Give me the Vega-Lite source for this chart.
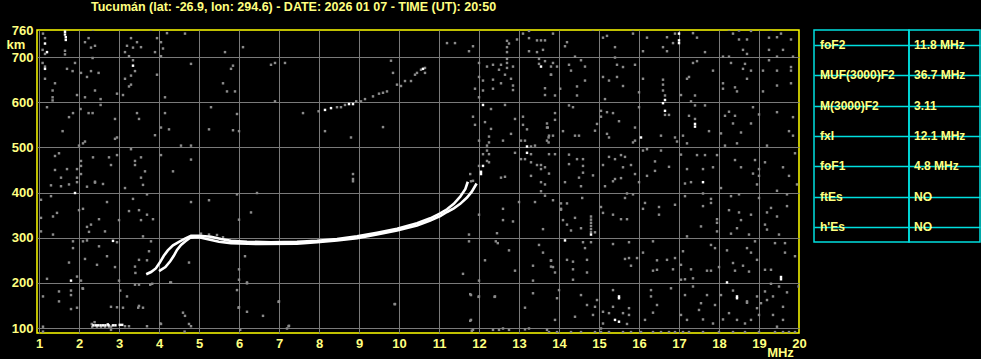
{
  "$schema": "https://vega.github.io/schema/vega-lite/v6.json",
  "background": "#000000",
  "padding": {"left": 5, "top": 0, "right": 0, "bottom": 0},
  "bounds": "flush",
  "spacing": 15,
  "config": {
    "font": "Liberation Sans",
    "view": {"stroke": "#ffff00", "strokeWidth": 1.5},
    "axis": {
      "labelFont": "Liberation Sans", "labelFontWeight": "bold", "labelColor": "#ffff80", "labelFontSize": 13,
      "titleFont": "Liberation Sans", "titleFontWeight": "bold", "titleColor": "#ffff80", "titleFontSize": 13,
      "ticks": false, "tickSize": 0, "domain": false, "gridColor": "#7a7a7a", "gridOpacity": 1, "gridWidth": 1
    }
  },
  "datasets": {
    "noise": [
      {"f":1.10,"h":752},{"f":1.15,"h":742},{"f":1.09,"h":716},{"f":1.15,"h":707},{"f":1.09,"h":687},{"f":1.15,"h":679},{"f":1.15,"h":652},{"f":1.40,"h":642},{"f":1.34,"h":626},{"f":1.34,"h":611},{"f":1.34,"h":604},{"f":1.20,"h":589},{"f":1.70,"h":674},{"f":1.84,"h":669},{"f":1.90,"h":687},{"f":2.05,"h":665},{"f":2.20,"h":656},{"f":2.30,"h":669},{"f":2.49,"h":665},{"f":2.15,"h":733},{"f":2.24,"h":742},{"f":2.30,"h":721},{"f":2.40,"h":725},{"f":2.34,"h":698},{"f":2.35,"h":761},{"f":1.95,"h":616},{"f":2.15,"h":611},{"f":2.40,"h":626},{"f":2.54,"h":607},{"f":2.54,"h":594},{"f":2.04,"h":585},{"f":1.85,"h":576},{"f":1.75,"h":567},{"f":1.59,"h":536},{"f":2.24,"h":576},{"f":2.34,"h":576},{"f":2.90,"h":563},{"f":2.95,"h":619},{"f":3.10,"h":616},{"f":3.15,"h":652},{"f":3.25,"h":635},{"f":3.30,"h":639},{"f":3.30,"h":659},{"f":3.40,"h":669},{"f":3.35,"h":693},{"f":3.25,"h":702},{"f":3.15,"h":711},{"f":3.20,"h":725},{"f":3.30,"h":742},{"f":3.45,"h":733},{"f":3.55,"h":722},{"f":3.35,"h":721},{"f":3.80,"h":761},{"f":3.90,"h":711},{"f":3.95,"h":742},{"f":4.05,"h":733},{"f":4.10,"h":719},{"f":4.20,"h":753},{"f":4.65,"h":752},{"f":4.05,"h":702},{"f":3.95,"h":661},{"f":4.15,"h":611},{"f":3.45,"h":576},{"f":3.50,"h":563},{"f":4.15,"h":576},{"f":4.05,"h":544},{"f":4.25,"h":540},{"f":3.90,"h":527},{"f":2.90,"h":519},{"f":2.95,"h":522},{"f":2.15,"h":513},{"f":2.10,"h":509},{"f":2.00,"h":504},{"f":1.40,"h":481},{"f":1.50,"h":487},{"f":1.40,"h":450},{"f":1.70,"h":452},{"f":2.05,"h":470},{"f":2.05,"h":459},{"f":1.95,"h":452},{"f":2.05,"h":441},{"f":1.95,"h":433},{"f":1.55,"h":433},{"f":2.35,"h":478},{"f":2.75,"h":478},{"f":2.80,"h":461},{"f":2.95,"h":483},{"f":3.30,"h":496},{"f":3.40,"h":470},{"f":3.40,"h":461},{"f":3.55,"h":478},{"f":3.65,"h":447},{"f":4.05,"h":483},{"f":4.35,"h":447},{"f":4.55,"h":504},{"f":4.80,"h":504},{"f":4.80,"h":473},{"f":2.40,"h":424},{"f":3.55,"h":433},{"f":4.80,"h":685},{"f":5.80,"h":674},{"f":5.85,"h":681},{"f":5.65,"h":711},{"f":6.10,"h":722},{"f":5.60,"h":642},{"f":5.70,"h":624},{"f":5.90,"h":624},{"f":6.90,"h":602},{"f":6.80,"h":683},{"f":6.90,"h":687},{"f":7.15,"h":687},{"f":5.30,"h":589},{"f":5.95,"h":574},{"f":5.25,"h":540},{"f":5.85,"h":538},{"f":6.00,"h":536},{"f":1.65,"h":714},{"f":1.65,"h":706},
      {"f":7.60,"h":576},{"f":7.99,"h":580},{"f":8.45,"h":589},{"f":8.55,"h":589},{"f":8.65,"h":594},{"f":8.93,"h":602},{"f":9.05,"h":602},{"f":9.15,"h":607},{"f":9.35,"h":613},{"f":9.50,"h":619},{"f":9.60,"h":621},{"f":9.70,"h":624},{"f":9.95,"h":639},{"f":10.05,"h":636},{"f":10.15,"h":647},{"f":10.30,"h":647},{"f":10.40,"h":661},{"f":10.45,"h":665},{"f":10.55,"h":672},{"f":10.65,"h":676},{"f":10.65,"h":665},
      {"f":9.80,"h":692},{"f":9.85,"h":665},{"f":9.60,"h":545},{"f":8.15,"h":536},{"f":8.80,"h":522},{"f":8.85,"h":441},{"f":8.85,"h":430},{"f":11.20,"h":731},{"f":11.40,"h":731},{"f":11.75,"h":713},{"f":11.85,"h":724},{"f":12.70,"h":736},{"f":12.70,"h":722},{"f":12.70,"h":711},{"f":12.75,"h":730},{"f":12.95,"h":739},{"f":13.10,"h":752},{"f":13.25,"h":758},{"f":13.25,"h":742},{"f":13.25,"h":713},{"f":13.45,"h":737},{"f":13.55,"h":737},{"f":13.65,"h":737},{"f":13.60,"h":716},{"f":13.45,"h":711},{"f":13.50,"h":696},{"f":13.50,"h":685},{"f":13.65,"h":691},{"f":13.80,"h":679},{"f":13.80,"h":661},{"f":13.65,"h":631},{"f":13.65,"h":616},{"f":12.70,"h":696},{"f":12.70,"h":687},{"f":12.70,"h":676},{"f":12.85,"h":679},{"f":12.55,"h":683},{"f":12.50,"h":672},{"f":12.35,"h":683},{"f":12.20,"h":679},{"f":12.00,"h":687},{"f":12.00,"h":656},{"f":12.10,"h":648},{"f":12.35,"h":650},{"f":12.65,"h":661},{"f":12.80,"h":652},{"f":12.85,"h":637},{"f":12.85,"h":627},{"f":12.55,"h":642},{"f":12.35,"h":630},{"f":12.10,"h":626},{"f":11.90,"h":630},{"f":12.00,"h":611},{"f":12.30,"h":585},{"f":12.65,"h":594},{"f":11.85,"h":568},{"f":11.90,"h":550},{"f":12.15,"h":556},{"f":12.30,"h":541},{"f":12.25,"h":524},{"f":12.25,"h":511},{"f":12.20,"h":504},{"f":12.00,"h":515},{"f":12.10,"h":485},{"f":12.20,"h":493},{"f":12.25,"h":485},{"f":12.20,"h":470},{"f":12.25,"h":467},{"f":12.00,"h":459},{"f":11.78,"h":441},{"f":11.85,"h":426},{"f":12.60,"h":515},{"f":12.80,"h":530},{"f":12.90,"h":563},{"f":13.10,"h":568},{"f":13.10,"h":550},{"f":13.20,"h":540},{"f":13.05,"h":515},{"f":13.15,"h":515},{"f":13.30,"h":502},{"f":13.40,"h":504},{"f":13.30,"h":485},{"f":13.30,"h":467},{"f":12.90,"h":488},{"f":13.05,"h":474},{"f":13.15,"h":474},{"f":13.45,"h":461},{"f":13.55,"h":461},{"f":13.65,"h":456},{"f":13.75,"h":485},{"f":13.70,"h":515},{"f":13.75,"h":526},{"f":13.70,"h":544},{"f":13.70,"h":553},{"f":12.65,"h":435},{"f":12.55,"h":433},{"f":13.30,"h":437},{"f":13.55,"h":452},
      {"f":13.85,"h":752},{"f":14.85,"h":761},{"f":15.20,"h":747},{"f":15.10,"h":743},{"f":15.40,"h":722},{"f":15.85,"h":761},{"f":15.85,"h":752},{"f":16.20,"h":743},{"f":16.10,"h":713},{"f":16.70,"h":744},{"f":16.70,"h":713},{"f":16.60,"h":722},{"f":16.85,"h":731},{"f":16.90,"h":752},{"f":17.35,"h":753},{"f":17.45,"h":743},{"f":17.65,"h":711},{"f":18.25,"h":761},{"f":18.35,"h":752},{"f":18.50,"h":759},{"f":18.80,"h":758},{"f":18.50,"h":739},{"f":18.70,"h":739},{"f":18.60,"h":716},{"f":18.70,"h":707},{"f":18.10,"h":701},{"f":18.25,"h":701},{"f":19.30,"h":761},{"f":19.45,"h":744},{"f":19.55,"h":752},{"f":19.25,"h":743},{"f":19.80,"h":739},{"f":19.25,"h":716},{"f":19.60,"h":716},{"f":19.45,"h":701},{"f":19.85,"h":701},{"f":19.25,"h":693},{"f":13.85,"h":687},{"f":13.95,"h":679},{"f":14.20,"h":733},{"f":14.15,"h":724},{"f":14.40,"h":701},{"f":14.55,"h":693},{"f":14.25,"h":683},{"f":14.30,"h":670},{"f":14.65,"h":679},{"f":14.65,"h":648},{"f":14.45,"h":635},{"f":14.45,"h":615},{"f":14.03,"h":630},{"f":13.90,"h":615},{"f":13.80,"h":661},{"f":15.10,"h":656},{"f":15.25,"h":648},{"f":15.45,"h":656},{"f":15.40,"h":699},{"f":15.45,"h":683},{"f":15.60,"h":678},{"f":15.90,"h":683},{"f":15.60,"h":636},{"f":15.15,"h":607},{"f":16.00,"h":622},{"f":16.10,"h":652},{"f":16.60,"h":650},{"f":16.60,"h":639},{"f":16.60,"h":626},{"f":16.65,"h":615},{"f":16.65,"h":572},{"f":16.75,"h":572},{"f":17.05,"h":616},{"f":17.20,"h":652},{"f":17.25,"h":656},{"f":17.35,"h":687},{"f":17.45,"h":691},{"f":17.85,"h":670},{"f":18.10,"h":642},{"f":18.10,"h":630},{"f":18.40,"h":633},{"f":18.45,"h":624},{"f":18.70,"h":652},{"f":18.60,"h":674},{"f":18.80,"h":670},{"f":18.65,"h":685},{"f":18.30,"h":687},{"f":19.10,"h":670},{"f":19.10,"h":624},{"f":19.45,"h":670},{"f":19.45,"h":637},{"f":19.80,"h":678},{"f":19.80,"h":670},{"f":19.80,"h":642},{"f":17.40,"h":615},{"f":17.30,"h":602},{"f":17.40,"h":593},{"f":17.65,"h":593},{"f":17.25,"h":570},{"f":17.40,"h":563},{"f":17.75,"h":536},{"f":18.15,"h":570},{"f":18.25,"h":579},{"f":18.40,"h":570},{"f":18.35,"h":553},{"f":18.55,"h":533},{"f":18.80,"h":553},{"f":18.85,"h":589},{"f":19.00,"h":573},{"f":19.45,"h":578},{"f":19.85,"h":567},{"f":19.75,"h":536},{"f":19.85,"h":526},{"f":18.05,"h":531},{"f":18.15,"h":504},{"f":18.45,"h":509},{"f":19.20,"h":504},{"f":13.90,"h":576},{"f":13.90,"h":561},{"f":13.72,"h":544},{"f":13.74,"h":522},{"f":13.74,"h":511},{"f":13.85,"h":526},{"f":14.10,"h":536},{"f":14.25,"h":593},{"f":14.35,"h":589},{"f":14.40,"h":526},{"f":14.50,"h":526},{"f":14.95,"h":552},{"f":14.90,"h":537},{"f":15.05,"h":581},{"f":15.05,"h":568},{"f":15.20,"h":578},{"f":15.35,"h":576},{"f":15.50,"h":558},{"f":15.20,"h":530},{"f":15.25,"h":522},{"f":15.90,"h":544},{"f":15.90,"h":515},{"f":15.85,"h":511},{"f":16.00,"h":589},{"f":16.10,"h":493},{"f":16.20,"h":496},{"f":16.55,"h":526},{"f":16.55,"h":493},{"f":16.90,"h":522},{"f":16.95,"h":513},{"f":17.10,"h":526},{"f":17.20,"h":509},{"f":17.05,"h":484},{"f":17.45,"h":483},{"f":17.65,"h":483},{"f":17.95,"h":483},{"f":13.90,"h":485},{"f":14.25,"h":484},{"f":14.45,"h":474},{"f":14.60,"h":474},{"f":14.60,"h":459},{"f":14.60,"h":444},{"f":14.25,"h":463},{"f":14.50,"h":433},{"f":13.75,"h":442},{"f":14.85,"h":438},{"f":15.10,"h":461},{"f":15.25,"h":479},{"f":15.40,"h":474},{"f":15.55,"h":483},{"f":15.65,"h":479},{"f":15.80,"h":461},{"f":15.60,"h":456},{"f":15.40,"h":430},{"f":15.55,"h":432},{"f":15.90,"h":441},{"f":16.20,"h":437},{"f":16.40,"h":448},{"f":16.40,"h":469},{"f":16.75,"h":457},{"f":17.20,"h":452},{"f":17.60,"h":452},{"f":17.85,"h":456},{"f":18.40,"h":472},{"f":18.55,"h":456},{"f":18.90,"h":472},{"f":19.15,"h":467},{"f":19.00,"h":452},{"f":19.00,"h":437},{"f":19.90,"h":487},{"f":19.75,"h":437},{"f":19.60,"h":456},{"f":18.85,"h":442},
      {"f":1.30,"h":416},{"f":1.55,"h":414},{"f":1.75,"h":418},{"f":1.95,"h":423},{"f":2.20,"h":413},{"f":2.40,"h":422},{"f":2.60,"h":419},{"f":1.05,"h":384},{"f":1.30,"h":392},{"f":1.45,"h":355},{"f":1.35,"h":347},{"f":1.05,"h":344},{"f":1.05,"h":314},{"f":1.35,"h":307},{"f":2.10,"h":364},{"f":2.00,"h":361},{"f":2.50,"h":341},{"f":2.20,"h":324},{"f":2.25,"h":313},{"f":2.30,"h":329},{"f":2.65,"h":314},{"f":2.70,"h":379},{"f":3.00,"h":339},{"f":3.25,"h":359},{"f":3.35,"h":386},{"f":3.50,"h":361},{"f":3.70,"h":351},{"f":3.55,"h":339},{"f":3.85,"h":341},{"f":3.70,"h":396},{"f":3.60,"h":417},{"f":3.15,"h":410},{"f":2.10,"h":292},{"f":1.85,"h":292},{"f":1.85,"h":277},{"f":2.20,"h":294},{"f":2.50,"h":281},{"f":2.95,"h":290},{"f":2.70,"h":259},{"f":2.15,"h":253},{"f":1.75,"h":245},{"f":2.45,"h":240},{"f":2.90,"h":235},{"f":3.40,"h":236},{"f":3.50,"h":251},{"f":3.70,"h":250},{"f":3.75,"h":270},{"f":3.80,"h":292},{"f":3.60,"h":303},{"f":3.41,"h":222},{"f":3.83,"h":198},{"f":1.20,"h":209},{"f":1.95,"h":214},{"f":2.05,"h":205},{"f":3.00,"h":205},{"f":3.50,"h":196},{"f":4.30,"h":201},{"f":4.75,"h":245},{"f":4.80,"h":379},{"f":5.25,"h":383},{"f":5.95,"h":396},{"f":6.45,"h":399},{"f":6.30,"h":356},{"f":6.00,"h":340},{"f":6.15,"h":259},{"f":6.00,"h":230},{"f":6.00,"h":207},{"f":6.20,"h":199},{"f":5.95,"h":184},{"f":6.00,"h":146},{"f":6.20,"h":136},{"f":6.60,"h":127},{"f":7.00,"h":159},{"f":7.25,"h":105},{"f":7.20,"h":99},{"f":1.50,"h":181},{"f":1.80,"h":183},{"f":1.80,"h":173},{"f":2.10,"h":187},{"f":1.10,"h":170},{"f":1.50,"h":159},{"f":1.80,"h":142},{"f":1.95,"h":145},{"f":2.80,"h":147},{"f":2.95,"h":146},{"f":3.10,"h":145},{"f":3.20,"h":170},{"f":3.50,"h":149},{"f":3.60,"h":145},{"f":4.05,"h":109},{"f":4.60,"h":134},{"f":4.65,"h":127},{"f":4.75,"h":109},{"f":4.80,"h":104},{"f":1.10,"h":103},{"f":1.10,"h":92},{"f":3.70,"h":104},{"f":3.25,"h":104},{"f":2.09,"h":188},{"f":3.03,"h":183},{"f":3.40,"h":196},{"f":3.78,"h":196},{"f":3.48,"h":145},{"f":4.28,"h":201},{"f":4.03,"h":110},{"f":2.39,"h":113},{"f":2.80,"h":96},{"f":4.64,"h":92},{"f":6.03,"h":96},{"f":5.99,"h":145},{"f":6.99,"h":158},{"f":7.24,"h":104},{"f":6.20,"h":201},{"f":9.89,"h":153},{"f":11.78,"h":175},{"f":11.99,"h":169},{"f":12.39,"h":169},{"f":11.78,"h":116},{"f":11.82,"h":94},{"f":5.05,"h":309},{"f":5.25,"h":307},{"f":5.45,"h":306},{"f":5.60,"h":301},
      {"f":14.15,"h":423},{"f":14.55,"h":414},{"f":15.15,"h":414},{"f":15.35,"h":425},{"f":16.00,"h":423},{"f":17.15,"h":420},{"f":17.30,"h":423},{"f":18.05,"h":410},{"f":18.95,"h":418},{"f":19.95,"h":418},{"f":19.45,"h":404},{"f":13.85,"h":383},{"f":14.05,"h":376},{"f":14.20,"h":376},{"f":14.05,"h":364},{"f":14.58,"h":388},{"f":15.05,"h":368},{"f":15.10,"h":355},{"f":15.35,"h":351},{"f":15.55,"h":341},{"f":15.70,"h":341},{"f":15.65,"h":388},{"f":15.70,"h":398},{"f":15.85,"h":396},{"f":16.15,"h":377},{"f":16.10,"h":364},{"f":16.50,"h":368},{"f":16.50,"h":351},{"f":16.90,"h":373},{"f":17.15,"h":392},{"f":17.60,"h":398},{"f":17.80,"h":386},{"f":17.80,"h":377},{"f":17.60,"h":370},{"f":17.95,"h":341},{"f":17.95,"h":333},{"f":17.95,"h":314},{"f":17.55,"h":325},{"f":17.20,"h":303},{"f":18.30,"h":392},{"f":18.50,"h":396},{"f":18.25,"h":361},{"f":18.50,"h":356},{"f":18.80,"h":351},{"f":18.55,"h":339},{"f":18.30,"h":309},{"f":18.45,"h":321},{"f":18.75,"h":307},{"f":19.00,"h":388},{"f":19.20,"h":356},{"f":19.30,"h":366},{"f":19.45,"h":347},{"f":19.15,"h":329},{"f":19.20,"h":318},{"f":19.70,"h":396},{"f":19.70,"h":370},{"f":14.10,"h":339},{"f":14.20,"h":329},{"f":14.30,"h":316},{"f":14.40,"h":344},{"f":14.55,"h":321},{"f":14.80,"h":347},{"f":14.80,"h":340},{"f":14.80,"h":333},{"f":14.80,"h":326},{"f":14.80,"h":319},{"f":14.80,"h":312},{"f":14.90,"h":312},{"f":14.05,"h":362},{"f":14.60,"h":290},{"f":14.65,"h":277},{"f":14.80,"h":290},{"f":15.35,"h":286},{"f":15.75,"h":290},{"f":15.75,"h":255},{"f":15.65,"h":253},{"f":15.95,"h":255},{"f":15.80,"h":238},{"f":16.10,"h":267},{"f":16.35,"h":292},{"f":16.45,"h":250},{"f":16.70,"h":251},{"f":16.90,"h":255},{"f":16.45,"h":229},{"f":16.35,"h":227},{"f":16.85,"h":230},{"f":17.05,"h":240},{"f":17.10,"h":270},{"f":17.30,"h":230},{"f":17.05,"h":207},{"f":17.15,"h":208},{"f":17.35,"h":210},{"f":17.80,"h":284},{"f":17.90,"h":277},{"f":17.70,"h":227},{"f":17.80,"h":227},{"f":18.00,"h":235},{"f":18.20,"h":272},{"f":18.35,"h":244},{"f":18.40,"h":227},{"f":18.60,"h":238},{"f":18.70,"h":277},{"f":18.75,"h":225},{"f":18.80,"h":267},{"f":18.90,"h":292},{"f":18.95,"h":251},{"f":19.15,"h":229},{"f":19.30,"h":229},{"f":19.40,"h":288},{"f":19.50,"h":307},{"f":19.65,"h":288},{"f":19.65,"h":267},{"f":19.90,"h":259},{"f":13.80,"h":249},{"f":13.85,"h":235},{"f":14.20,"h":251},{"f":14.35,"h":247},{"f":14.70,"h":251},{"f":14.35,"h":230},{"f":14.70,"h":223},{"f":14.35,"h":207},{"f":13.90,"h":223},{"f":18.35,"h":183},{"f":18.70,"h":159},{"f":18.95,"h":170},{"f":19.15,"h":181},{"f":19.20,"h":162},{"f":19.35,"h":170},{"f":19.30,"h":198},{"f":19.50,"h":192},{"f":19.60,"h":147},{"f":19.99,"h":192},{"f":19.70,"h":179},{"f":19.35,"h":129},{"f":19.60,"h":118},{"f":14.00,"h":184},{"f":13.95,"h":166},{"f":14.55,"h":173},{"f":14.70,"h":151},{"f":14.90,"h":147},{"f":14.85,"h":129},{"f":14.40,"h":125},{"f":13.90,"h":118},{"f":14.95,"h":162},{"f":15.35,"h":184},{"f":15.35,"h":147},{"f":15.70,"h":109},{"f":15.75,"h":129},{"f":15.75,"h":144},{"f":15.60,"h":133},{"f":15.25,"h":133},{"f":15.10,"h":136},{"f":15.10,"h":110},{"f":15.05,"h":99},{"f":16.30,"h":184},{"f":16.30,"h":170},{"f":16.45,"h":151},{"f":16.15,"h":118},{"f":16.35,"h":134},{"f":16.80,"h":188},{"f":17.15,"h":173},{"f":17.35,"h":192},{"f":17.55,"h":155},{"f":17.70,"h":173},{"f":17.90,"h":151},{"f":17.50,"h":140},{"f":17.05,"h":129},{"f":17.20,"h":118},{"f":17.60,"h":119},{"f":17.85,"h":110},{"f":18.10,"h":119},{"f":18.25,"h":133},{"f":18.45,"h":118},{"f":18.65,"h":110},{"f":18.80,"h":118},{"f":18.95,"h":144},{"f":19.00,"h":129},{"f":18.05,"h":173},{"f":19.05,"h":155},{"f":18.70,"h":156},{"f":19.45,"h":103},
      {"f":13.75,"h":91},{"f":13.95,"h":91},{"f":14.30,"h":91},{"f":14.55,"h":91},{"f":14.90,"h":91},{"f":15.05,"h":91},{"f":15.25,"h":91},{"f":15.60,"h":91},{"f":15.80,"h":91},{"f":16.05,"h":91},{"f":16.35,"h":91},{"f":16.55,"h":91},{"f":16.75,"h":91},{"f":16.90,"h":91},{"f":17.10,"h":91},{"f":17.25,"h":91},{"f":17.60,"h":91},{"f":18.00,"h":91},{"f":18.35,"h":91},{"f":18.65,"h":91},{"f":19.00,"h":91},{"f":19.40,"h":91},{"f":19.60,"h":91},{"f":19.75,"h":91},{"f":19.90,"h":91},{"f":11.85,"h":96},{"f":12.35,"h":96},{"f":12.50,"h":96},{"f":12.60,"h":99},{"f":12.75,"h":96},{"f":13.15,"h":97},{"f":13.25,"h":99},{"f":13.70,"h":96},
      {"f":8.85,"h":425},{"f":11.80,"h":425},{"f":11.75,"h":307},{"f":11.75,"h":292},{"f":12.00,"h":351},{"f":12.45,"h":310},{"f":12.42,"h":292},{"f":12.47,"h":288},{"f":12.60,"h":364},{"f":12.60,"h":339},{"f":12.85,"h":336},{"f":12.75,"h":272},{"f":13.00,"h":379},{"f":13.40,"h":379},{"f":13.55,"h":423},{"f":13.65,"h":418},{"f":13.55,"h":403},{"f":13.65,"h":393},{"f":13.60,"h":319},{"f":13.50,"h":284},{"f":13.60,"h":267},{"f":13.80,"h":250},{"f":13.80,"h":236},{"f":13.35,"h":238},{"f":13.35,"h":205},{"f":13.35,"h":177},{"f":13.15,"h":145},{"f":12.90,"h":227},{"f":12.15,"h":250},{"f":11.60,"h":220},{"f":12.00,"h":205},{"f":11.80,"h":173},{"f":12.00,"h":170},{"f":12.40,"h":170},{"f":11.80,"h":118},{"f":9.90,"h":153},
      {"f":2.33,"h":103},{"f":2.45,"h":103},{"f":2.55,"h":103},{"f":2.65,"h":103},{"f":2.75,"h":103},{"f":2.80,"h":103},{"f":3.15,"h":104},{"f":2.32,"h":109}
    ],
    "bright": [
      {"f":1.15,"h":730},{"f":1.20,"h":711},{"f":1.15,"h":674},{"f":3.35,"h":681},{"f":1.65,"h":762},{"f":1.65,"h":756},{"f":1.65,"h":750},{"f":1.67,"h":744},{"f":1.67,"h":738},{"f":8.15,"h":583},{"f":8.30,"h":587},{"f":8.75,"h":596},{"f":8.85,"h":596},{"f":10.60,"h":674},{"f":13.55,"h":679},{"f":12.10,"h":594},{"f":12.10,"h":459},{"f":12.05,"h":441},{"f":12.05,"h":446},{"f":13.20,"h":502},{"f":13.20,"h":488},{"f":17.00,"h":752},{"f":17.00,"h":731},{"f":17.00,"h":737},{"f":16.65,"h":605},{"f":16.60,"h":598},{"f":16.65,"h":581},{"f":17.40,"h":552},{"f":17.40,"h":546},{"f":16.05,"h":522},{"f":1.90,"h":399},{"f":2.85,"h":293},{"f":1.80,"h":205},{"f":17.60,"h":423},{"f":14.80,"h":307},{"f":14.15,"h":294},{"f":19.55,"h":208},{"f":19.55,"h":213},{"f":18.20,"h":201},{"f":18.45,"h":166},{"f":18.45,"h":170},{"f":15.50,"h":166},{"f":15.50,"h":170},{"f":15.40,"h":118},{"f":15.50,"h":114},
      {"f":2.36,"h":106},{"f":2.42,"h":106},{"f":2.48,"h":106},{"f":2.54,"h":106},{"f":2.60,"h":106},{"f":2.66,"h":106},{"f":2.72,"h":108},{"f":2.74,"h":106},{"f":2.85,"h":106},{"f":2.91,"h":106},{"f":3.02,"h":107},{"f":3.08,"h":107}
    ],
    "trace": [
      {"ray":"O","f":3.68,"h":219},{"ray":"O","f":3.80,"h":224},{"ray":"O","f":3.92,"h":232},{"ray":"O","f":4.02,"h":245},{"ray":"O","f":4.12,"h":260},{"ray":"O","f":4.22,"h":272},{"ray":"O","f":4.35,"h":283},{"ray":"O","f":4.50,"h":291},{"ray":"O","f":4.65,"h":298},{"ray":"O","f":4.80,"h":304},{"ray":"O","f":5.00,"h":304},{"ray":"O","f":5.30,"h":302},{"ray":"O","f":5.55,"h":297},{"ray":"O","f":5.80,"h":293},{"ray":"O","f":6.20,"h":291},{"ray":"O","f":6.80,"h":290},{"ray":"O","f":7.45,"h":291},{"ray":"O","f":7.95,"h":293},{"ray":"O","f":8.45,"h":297},{"ray":"O","f":8.95,"h":303},{"ray":"O","f":9.45,"h":311},{"ray":"O","f":9.95,"h":320},{"ray":"O","f":10.45,"h":332},{"ray":"O","f":10.78,"h":343},{"ray":"O","f":11.03,"h":354},{"ray":"O","f":11.20,"h":363},{"ray":"O","f":11.37,"h":375},{"ray":"O","f":11.53,"h":391},{"ray":"O","f":11.66,"h":408},{"ray":"O","f":11.72,"h":424},
      {"ray":"X","f":4.00,"h":226},{"ray":"X","f":4.16,"h":235},{"ray":"X","f":4.28,"h":248},{"ray":"X","f":4.37,"h":260},{"ray":"X","f":4.45,"h":273},{"ray":"X","f":4.55,"h":284},{"ray":"X","f":4.66,"h":292},{"ray":"X","f":4.78,"h":300},{"ray":"X","f":5.00,"h":301},{"ray":"X","f":5.50,"h":291},{"ray":"X","f":5.80,"h":288},{"ray":"X","f":6.50,"h":286},{"ray":"X","f":7.45,"h":287},{"ray":"X","f":7.95,"h":290},{"ray":"X","f":8.45,"h":294},{"ray":"X","f":8.95,"h":299},{"ray":"X","f":9.45,"h":307},{"ray":"X","f":9.95,"h":316},{"ray":"X","f":10.45,"h":327},{"ray":"X","f":10.78,"h":338},{"ray":"X","f":11.03,"h":348},{"ray":"X","f":11.20,"h":357},{"ray":"X","f":11.37,"h":365},{"ray":"X","f":11.53,"h":375},{"ray":"X","f":11.70,"h":389},{"ray":"X","f":11.82,"h":402},{"ray":"X","f":11.94,"h":420}
    ],
    "table": [
      {"param":"foF2","value":"11.8 MHz"},
      {"param":"MUF(3000)F2","value":"36.7 MHz"},
      {"param":"M(3000)F2","value":"3.11"},
      {"param":"fxI","value":"12.1 MHz"},
      {"param":"foF1","value":"4.8 MHz"},
      {"param":"ftEs","value":"NO"},
      {"param":"h'Es","value":"NO"}
    ]
  },
  "hconcat": [
    {
      "width": 762,
      "height": 303,
      "title": {"text": "Tucumán (lat: -26.9, lon: 294.6) - DATE: 2026 01 07 - TIME (UT): 20:50", "anchor": "start", "frame": "group", "dx": 54, "offset": 10.5, "color": "#ffff80", "fontSize": 12.5, "fontWeight": "bold", "font": "Liberation Sans"},
      "encoding": {
        "x": {"field": "f", "type": "quantitative",
          "scale": {"domain": [0.95, 20], "nice": false, "zero": false},
          "axis": {"title": "MHz", "values": [1,2,3,4,5,6,7,8,9,10,11,12,13,14,15,16,17,18,19,20], "grid": true,
            "gridColor": {"condition": {"test": "datum.value == 20", "value": "transparent"}, "value": "#7a7a7a"},
            "labelPadding": 4, "labelBaseline": "top", "labelFlush": false, "labelOverlap": false,
            "titleX": 743, "titleY": 19, "titleAlign": "center", "titleBaseline": "middle"}},
        "y": {"field": "h", "type": "quantitative",
          "scale": {"domain": [89, 760], "nice": false, "zero": false},
          "axis": {"title": "km", "values": [100,200,300,400,500,600,700,760], "grid": true,
            "gridColor": {"condition": {"test": "datum.value == 760", "value": "transparent"}, "value": "#7a7a7a"},
            "labelPadding": 4, "labelBaseline": "middle", "labelFlush": false, "labelOverlap": false,
            "titleAngle": 0, "titleX": -21.5, "titleY": 14, "titleAlign": "center", "titleBaseline": "middle"}}
      },
      "layer": [
        {"data": {"name": "noise"}, "mark": {"type": "square", "size": 6, "color": "#8a8a8a", "opacity": 1, "clip": true}},
        {"data": {"name": "bright"}, "mark": {"type": "square", "size": 6, "color": "#ffffff", "opacity": 1, "clip": true}},
        {"data": {"name": "trace"}, "mark": {"type": "line", "color": "#ffffff", "strokeWidth": 2.6, "clip": true},
          "encoding": {"detail": {"field": "ray", "type": "nominal"}}}
      ]
    },
    {
      "spacing": 0,
      "bounds": "flush",
      "hconcat": [
        {
          "width": 95, "height": 212,
          "data": {"name": "table"},
          "view": {"stroke": "#00e0e0", "strokeWidth": 1.5},
          "mark": {"type": "text", "align": "left", "baseline": "middle", "dx": -41.5, "color": "#ffff80", "fontWeight": "bold", "fontSize": 12, "font": "Liberation Sans"},
          "encoding": {
            "y": {"field": "param", "type": "nominal", "sort": null, "scale": {"paddingInner": 0, "paddingOuter": 0},
              "axis": {"title": null, "labels": false, "ticks": false, "domain": false, "grid": true, "gridColor": "#00e0e0", "gridWidth": 1.5, "bandPosition": 0}},
            "text": {"field": "param"}
          }
        },
        {
          "width": 71, "height": 212,
          "data": {"name": "table"},
          "view": {"stroke": "#00e0e0", "strokeWidth": 1.5},
          "mark": {"type": "text", "align": "left", "baseline": "middle", "dx": -30.5, "color": "#ffff80", "fontWeight": "bold", "fontSize": 12, "font": "Liberation Sans"},
          "encoding": {
            "y": {"field": "param", "type": "nominal", "sort": null, "scale": {"paddingInner": 0, "paddingOuter": 0},
              "axis": {"title": null, "labels": false, "ticks": false, "domain": false, "grid": true, "gridColor": "#00e0e0", "gridWidth": 1.5, "bandPosition": 0}},
            "text": {"field": "value"}
          }
        }
      ]
    }
  ]
}
